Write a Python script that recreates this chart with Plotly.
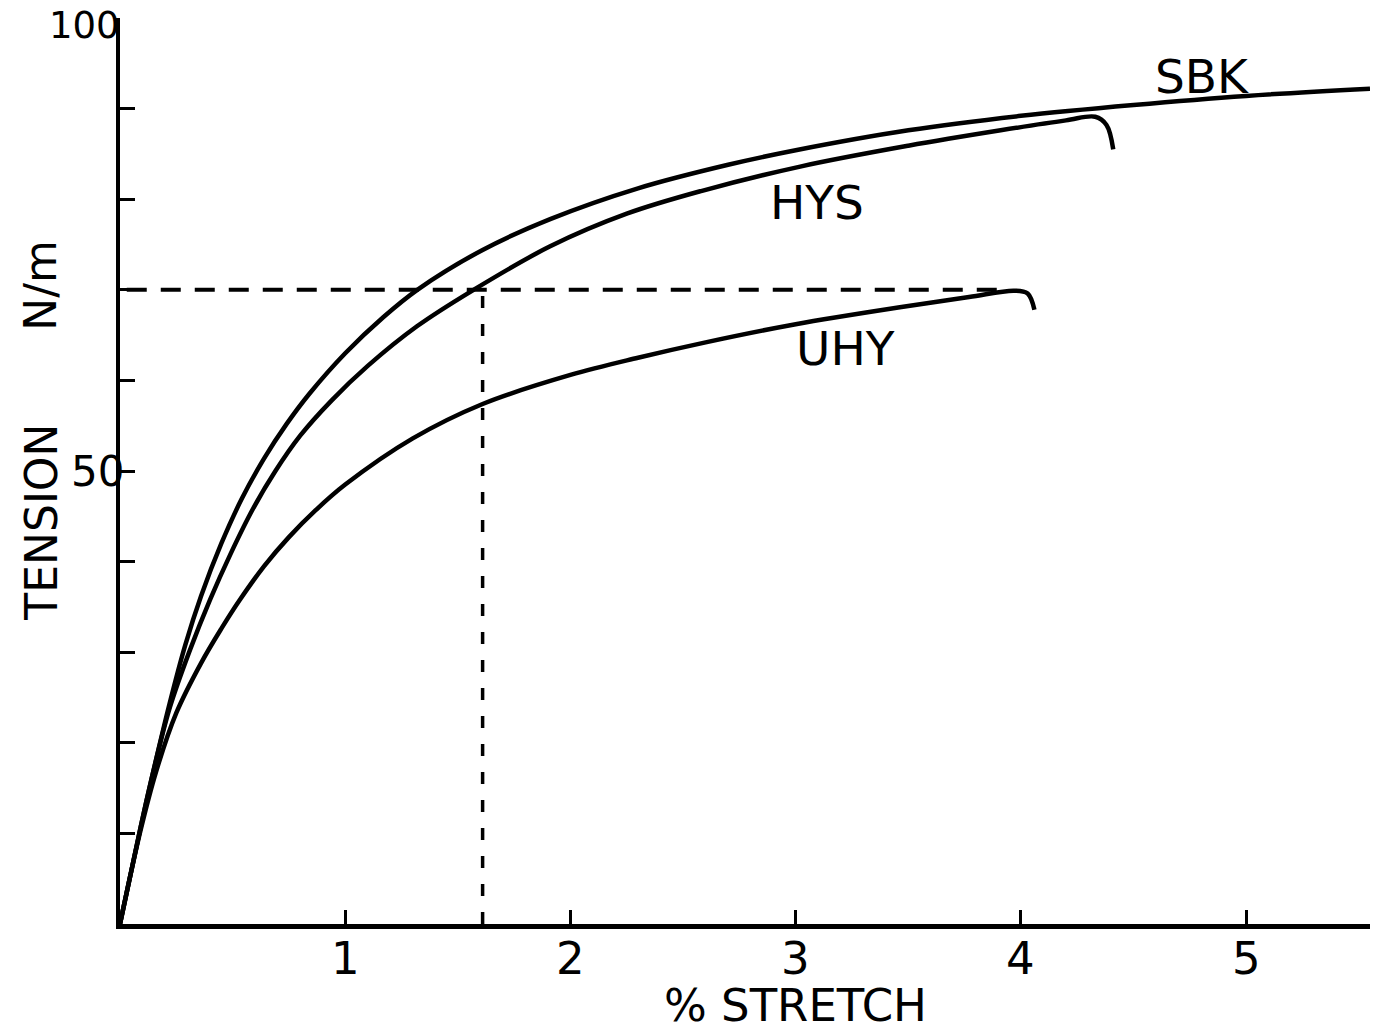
import plotly.graph_objects as go

# Tension vs. stretch curves for three grades
sbk_stretch = [0, 0.09, 0.14, 0.22, 0.29, 0.36, 0.45, 0.54, 0.64, 0.74, 0.84, 1.00, 1.17, 1.32, 1.61, 1.91, 2.30, 2.70, 3.00, 3.50, 4.00, 4.50, 5.00, 5.55]
sbk_tension = [0, 10.5, 16.0, 24.3, 30.8, 36.2, 42.0, 46.9, 51.4, 55.2, 58.5, 63.0, 67.0, 70.0, 74.4, 77.8, 81.2, 83.8, 85.4, 87.6, 89.2, 90.4, 91.4, 92.2]

hys_stretch = [0, 0.09, 0.14, 0.22, 0.31, 0.40, 0.49, 0.59, 0.69, 0.80, 0.94, 1.10, 1.32, 1.57, 1.91, 2.25, 2.58, 3.02, 3.50, 3.91, 4.20, 4.33, 4.38, 4.41]
hys_tension = [0, 10.5, 16.0, 23.8, 30.2, 35.8, 40.8, 45.8, 50.0, 53.9, 57.8, 61.6, 66.0, 70.0, 74.8, 78.4, 80.9, 83.6, 85.9, 87.6, 88.7, 89.1, 88.2, 85.5]

uhy_stretch = [0, 0.09, 0.16, 0.25, 0.36, 0.45, 0.53, 0.64, 0.75, 0.87, 1.00, 1.30, 1.61, 2.00, 2.30, 2.60, 3.00, 3.47, 3.77, 3.97, 4.03, 4.06]
uhy_tension = [0, 10.2, 16.8, 23.3, 28.8, 32.6, 35.7, 39.5, 42.7, 45.7, 48.5, 53.6, 57.4, 60.6, 62.5, 64.2, 66.2, 68.1, 69.2, 69.9, 69.6, 67.8]

# Reference level and the stretch where HYS reaches it
ref_tension = 70
ref_stretch = 1.61
ref_line_end = 3.95

x_ticks = [1, 2, 3, 4, 5]
y_ticks = [10, 20, 30, 40, 50, 60, 70, 80, 90, 100]
y_labels = {100: "100", 50: "50"}

curve_labels = ["SBK", "HYS", "UHY"]
label_x = [4.805, 3.095, 3.22]
label_y = [93.5, 79.6, 63.5]

FONT = "DejaVu Sans"
INK = "black"

fig = go.Figure()

for xs, ys in [(sbk_stretch, sbk_tension), (hys_stretch, hys_tension), (uhy_stretch, uhy_tension)]:
    fig.add_trace(go.Scatter(x=xs, y=ys, mode="lines",
                             line=dict(color=INK, width=4.5, shape="spline", smoothing=1.0),
                             showlegend=False, hoverinfo="skip"))

# Dashed guide lines
fig.add_trace(go.Scatter(x=[0.03, ref_line_end], y=[ref_tension, ref_tension], mode="lines",
                         line=dict(color=INK, width=4, dash="20px,14px"),
                         showlegend=False, hoverinfo="skip"))
fig.add_trace(go.Scatter(x=[ref_stretch, ref_stretch], y=[0, ref_tension], mode="lines",
                         line=dict(color=INK, width=3.5, dash="12px,16px"),
                         showlegend=False, hoverinfo="skip"))

for t, x, y in zip(curve_labels, label_x, label_y):
    fig.add_annotation(x=x, y=y, text=t, showarrow=False,
                       font=dict(family=FONT, size=47, color=INK))

# x tick labels
for v in x_ticks:
    fig.add_annotation(x=v, y=-0.038, xref="x", yref="paper", text=str(v),
                       showarrow=False, yanchor="middle",
                       font=dict(family=FONT, size=45, color=INK))

# y-axis value labels
fig.add_annotation(x=0, y=100, xref="x", yref="y", text=y_labels[100], showarrow=False,
                   xanchor="right", yanchor="top", xshift=2, yshift=16,
                   font=dict(family=FONT, size=37, color=INK))
fig.add_annotation(x=0, y=50, xref="x", yref="y", text=y_labels[50], showarrow=False,
                   xanchor="right", xshift=6,
                   font=dict(family=FONT, size=42, color=INK))

# axis titles
fig.add_annotation(x=3.0, y=-0.0895, xref="x", yref="paper", text="% STRETCH",
                   showarrow=False, yanchor="middle",
                   font=dict(family=FONT, size=45, color=INK))
fig.add_annotation(x=-0.0635, y=(924 - 522) / 906, xref="paper", yref="paper", text="TENSION",
                   showarrow=False, textangle=-90, xanchor="center", yanchor="middle",
                   font=dict(family=FONT, size=44, color=INK))
fig.add_annotation(x=-0.0635, y=(924 - 285) / 906, xref="paper", yref="paper", text="N/m",
                   showarrow=False, textangle=-90, xanchor="center", yanchor="middle",
                   font=dict(family=FONT, size=44, color=INK))

fig.update_layout(
    width=1382, height=1031,
    margin=dict(l=120, r=12, t=18, b=107),
    paper_bgcolor="white", plot_bgcolor="white",
    font=dict(family=FONT, color=INK),
)
fig.update_xaxes(range=[0, 5.55], showgrid=False, zeroline=False,
                 showline=True, linecolor=INK, linewidth=5,
                 ticks="inside", ticklen=14, tickwidth=3, tickcolor=INK,
                 tickvals=x_ticks, showticklabels=False)
fig.update_yaxes(range=[0, 100], showgrid=False, zeroline=False,
                 showline=True, linecolor=INK, linewidth=4,
                 ticks="inside", ticklen=15, tickwidth=3, tickcolor=INK,
                 tickvals=y_ticks, showticklabels=False)

fig.write_html("out.html")
